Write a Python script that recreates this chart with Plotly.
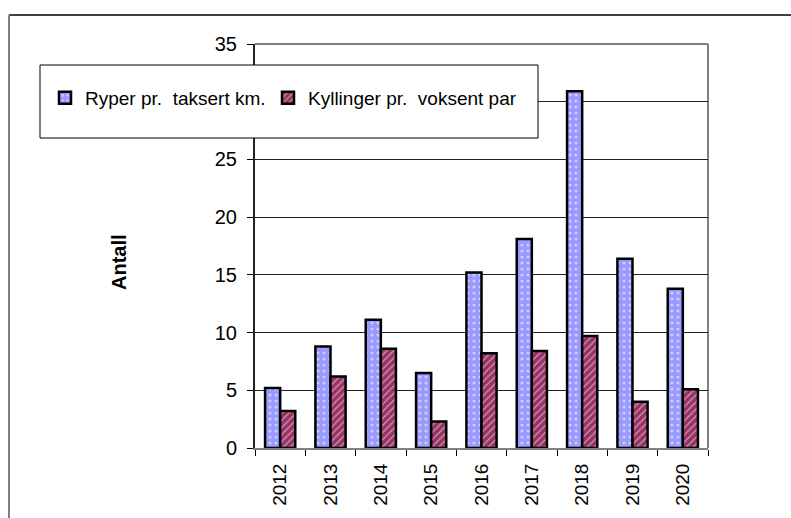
import plotly.graph_objects as go

years = ["2012", "2013", "2014", "2015", "2016", "2017", "2018", "2019", "2020"]
ryper = [5.2, 8.8, 11.1, 6.5, 15.2, 18.1, 30.9, 16.4, 13.8]
kyllinger = [3.2, 6.2, 8.6, 2.3, 8.2, 8.4, 9.7, 4.0, 5.1]
name_ryper = "Ryper pr.\u00a0 taksert km."
name_kyll = "Kyllinger pr.\u00a0 voksent par"
y_ticks = [0, 5, 10, 15, 20, 25, 30, 35]
# the "30" label is hidden behind the legend box in the original
y_ticklabels = ["0", "5", "10", "15", "20", "25", "", "35"]

FONT = "Liberation Sans, Arial, sans-serif"
W, H = 791, 518
L, R, T, B = 255, 708, 44, 448


def px(x):
    return (x - L) / (R - L)


def py(y):
    return (B - y) / (B - T)


fig = go.Figure()
fig.add_trace(go.Bar(
    x=years, y=ryper, name=name_ryper, legend="legend",
    marker=dict(color="#9999FF", line=dict(color="black", width=2.5),
                pattern=dict(shape=".", fgcolor="white", bgcolor="#9999FF",
                             size=6, solidity=0.22, fillmode="overlay")),
))
fig.add_trace(go.Bar(
    x=years, y=kyllinger, name=name_kyll, legend="legend2",
    marker=dict(color="#993366", line=dict(color="black", width=2.5),
                pattern=dict(shape="/", fgcolor="white", bgcolor="#993366",
                             size=5, solidity=0.25, fillmode="overlay")),
))

shapes = [
    # outer chart frame
    dict(type="line", xref="paper", yref="paper", x0=px(9), x1=px(800), y0=py(15), y1=py(15),
         line=dict(color="black", width=1.5), layer="above"),
    dict(type="line", xref="paper", yref="paper", x0=px(9), x1=px(9), y0=py(15), y1=py(530),
         line=dict(color="#808080", width=2), layer="above"),
    # plot area right/top border
    dict(type="line", xref="paper", yref="paper", x0=1, x1=1, y0=0, y1=1,
         line=dict(color="#808080", width=2), layer="below"),
    dict(type="line", xref="paper", yref="paper", x0=0, x1=1, y0=1, y1=1,
         line=dict(color="#808080", width=2), layer="below"),
    # legend box
    dict(type="rect", xref="paper", yref="paper", x0=px(40), x1=px(538), y0=py(138), y1=py(65),
         fillcolor="white", line=dict(color="black", width=1), layer="above"),
]

legend_common = dict(orientation="h", xref="container", yref="container",
                     xanchor="left", yanchor="middle",
                     bgcolor="rgba(0,0,0,0)", borderwidth=0, itemwidth=30,
                     font=dict(family=FONT, size=19, color="black"),
                     itemclick=False)

fig.update_layout(
    width=W, height=H,
    margin=dict(l=L, r=W - R, t=T, b=H - B, pad=0, autoexpand=False),
    paper_bgcolor="white", plot_bgcolor="white",
    font=dict(family=FONT, size=19, color="black"),
    barmode="group", bargap=0.4, bargroupgap=0,
    showlegend=True,
    legend=dict(x=45 / W, y=1 - 98 / H, **legend_common),
    legend2=dict(x=268 / W, y=1 - 98 / H, **legend_common),
    xaxis=dict(type="category", tickangle=-90, tickson="boundaries", ticks="outside",
               ticklen=6, tickcolor="black", showline=True, linecolor="#808080", linewidth=2,
               showgrid=False, ticklabelstandoff=6, tickfont=dict(family=FONT, size=19)),
    yaxis=dict(range=[0, 35], tickvals=y_ticks, ticktext=y_ticklabels, ticks="outside",
               ticklen=6, tickcolor="black",
               showline=True, linecolor="#222222", linewidth=2, showgrid=True,
               gridcolor="#222222", gridwidth=1, zeroline=False,
               ticklabelstandoff=6, tickfont=dict(family=FONT, size=20)),
    shapes=shapes,
    annotations=[dict(text="<b>Antall</b>", xref="paper", yref="paper", x=px(119), y=py(262),
                      textangle=-90, showarrow=False, font=dict(family=FONT, size=20, color="black"),
                      xanchor="center", yanchor="middle")],
)

fig.write_html("out.html", config={"displayModeBar": False},
               post_script="document.body.style.margin='0px';")
